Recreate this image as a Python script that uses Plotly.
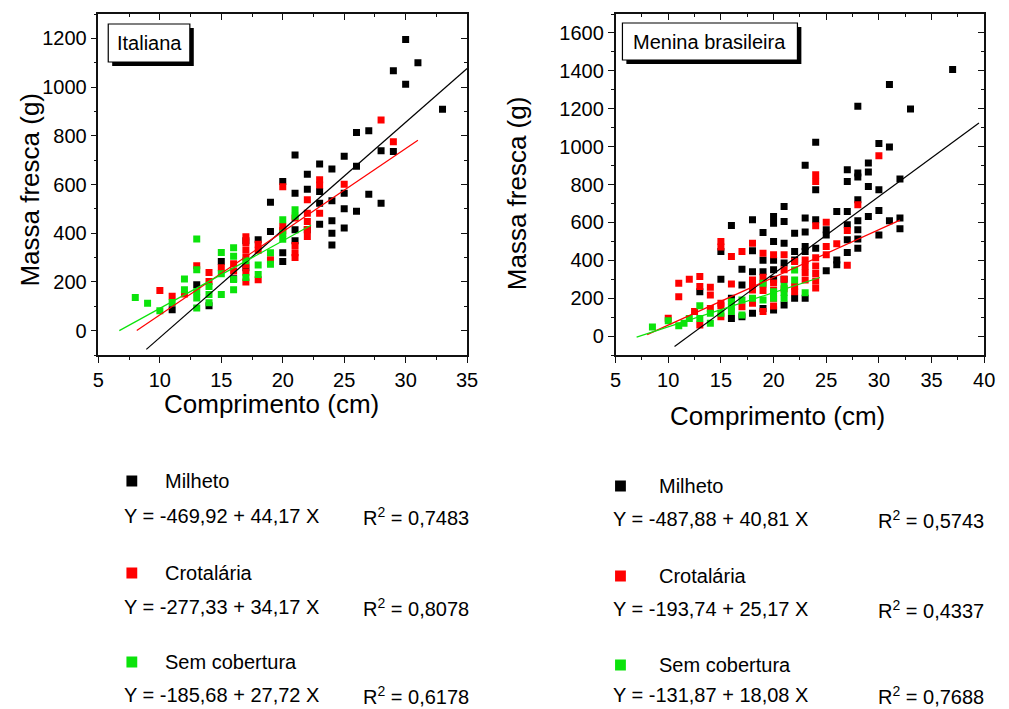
import plotly.graph_objects as go

W, H = 1009, 709

# ---------------- Italiana ----------------
ita_milheto_x = [11, 13, 14, 15, 16, 17, 17, 18, 19, 19, 20, 20, 20, 21, 21, 21, 21, 22, 22, 22,
                 23, 23, 23, 23, 24, 24, 24, 24, 24, 25, 25, 25, 25, 26, 26, 26, 27, 27, 28, 28,
                 29, 29, 30, 30, 31, 33]
ita_milheto_y = [86, 188, 102, 284, 213, 369, 258, 373, 527, 407, 612, 320, 284, 721, 564, 414, 369, 642, 581, 414,
                 684, 571, 523, 437, 664, 533, 451, 400, 352, 716, 564, 500, 421, 814, 675, 490, 821, 560, 739, 523,
                 1067, 735, 1195, 1012, 1100, 909]

ita_crot_x = [10, 11, 12, 13, 14, 14, 15, 16, 16, 17, 17, 17, 17, 17, 17, 17, 18, 18, 18, 19,
              20, 20, 20, 21, 21, 21, 21, 22, 22, 22, 22, 22, 23, 23, 23, 25, 28, 29]
ita_crot_y = [165, 141, 150, 266, 239, 202, 258, 275, 245, 385, 360, 330, 300, 270, 240, 200, 355, 330, 209, 291,
              591, 428, 410, 462, 350, 320, 300, 537, 482, 448, 415, 386, 619, 598, 482, 601, 865, 776]

ita_sem_x = [8, 9, 10, 11, 12, 12, 13, 13, 13, 13, 13, 14, 14, 14, 15, 15, 15, 16, 16, 16,
             16, 17, 17, 18, 18, 19, 19, 20, 20, 20, 21, 21]
ita_sem_y = [136, 112, 82, 116, 212, 168, 376, 250, 160, 134, 93, 181, 148, 115, 321, 234, 148, 340, 305, 210,
             168, 287, 218, 270, 230, 320, 273, 455, 400, 375, 496, 470]

ita_intercepts = [-469.92, -277.33, -185.68]
ita_slopes = [44.17, 34.17, 27.72]
ita_r2 = ["0,7483", "0,8078", "0,6178"]
ita_fit_x = [[8.9, 35.0], [8.12, 31.0], [6.7, 22.3]]

# ---------------- Menina brasileira ----------------
men_milheto_x = [13, 15, 15, 16, 16, 16, 17, 17, 17, 18, 18, 18, 18, 19, 19, 19, 19, 20, 20, 20,
                 20, 20, 20, 20, 21, 21, 21, 21, 21, 21, 22, 22, 22, 22, 23, 23, 23, 23, 23, 23,
                 24, 24, 24, 24, 25, 25, 25, 26, 26, 26, 27, 27, 27, 27, 27, 27, 28, 28, 28, 28,
                 28, 28, 28, 28, 29, 29, 29, 29, 30, 30, 30, 30, 31, 31, 31, 32, 32, 32, 33, 37]
men_milheto_y = [234, 300, 446, 584, 199, 93, 353, 270, 102, 614, 450, 340, 120, 547, 400, 340, 146, 631, 596, 499,
                 400, 350, 300, 138, 684, 605, 490, 385, 300, 164, 543, 446, 402, 199, 901, 623, 549, 473, 446, 199,
                 1023, 772, 614, 464, 561, 534, 345, 658, 402, 376, 878, 816, 658, 587, 508, 441, 1213, 861, 840, 720,
                 608, 561, 512, 464, 914, 866, 790, 631, 1016, 772, 663, 534, 1328, 998, 608, 829, 623, 566, 1199, 1407]

men_crot_x = [10, 11, 11, 12, 12.5, 13, 13, 13, 14, 14, 14, 15, 15, 15, 15, 15, 16, 16, 17, 17,
              18, 18, 18, 18, 18, 19, 19, 19, 19, 19, 20, 20, 20, 20, 20, 21, 21, 21, 21, 22,
              22, 22, 23, 23, 23, 23, 24, 24, 24, 24, 24, 24, 24, 24, 25, 25, 25, 26, 27, 27,
              28, 30]
men_crot_y = [94, 279, 208, 300, 129, 314, 261, 58, 257, 217, 146, 499, 470, 173, 160, 102, 420, 275, 446, 155,
              490, 296, 270, 243, 173, 437, 310, 275, 240, 129, 429, 280, 240, 200, 159, 429, 350, 300, 250, 393,
              261, 234, 402, 370, 335, 296, 852, 816, 582, 413, 370, 330, 290, 254, 601, 473, 429, 487, 557, 374,
              693, 952]

men_sem_x = [8.5, 10, 11, 11.5, 12, 13, 13, 14, 14, 15, 16, 16, 16, 17, 17, 18, 19, 19, 20, 20,
             21, 21, 21, 22, 22, 23]
men_sem_y = [48, 81, 55, 67, 93, 160, 93, 120, 67, 120, 181, 155, 129, 190, 111, 199, 279, 190, 234, 199,
             261, 230, 199, 349, 296, 229]

men_intercepts = [-487.88, -193.74, -131.87]
men_slopes = [40.81, 25.17, 18.08]
men_r2 = ["0,5743", "0,4337", "0,7688"]
men_fit_x = [[10.6, 39.5], [8.0, 32.0], [7.0, 24.4]]

series_names = ["Milheto", "Crotalária", "Sem cobertura"]
colors = ["#000000", "#ff0000", "#0be30b"]

FONT = "Arial, 'Liberation Sans', sans-serif"


def px(x):
    return x / W


def py(y):
    return 1 - y / H


def fmt(v):
    return f"{v:.2f}".replace(".", ",")


fig = go.Figure()

panels = [
    dict(xa="x", ya="y", data=[(ita_milheto_x, ita_milheto_y), (ita_crot_x, ita_crot_y), (ita_sem_x, ita_sem_y)],
         b=ita_intercepts, m=ita_slopes, fx=ita_fit_x),
    dict(xa="x2", ya="y2", data=[(men_milheto_x, men_milheto_y), (men_crot_x, men_crot_y), (men_sem_x, men_sem_y)],
         b=men_intercepts, m=men_slopes, fx=men_fit_x),
]

for p in panels:
    for (xs, ys), c, name in zip(p["data"], colors, series_names):
        fig.add_trace(go.Scatter(x=xs, y=ys, mode="markers", name=name, xaxis=p["xa"], yaxis=p["ya"],
                                 marker=dict(symbol="square", size=7, color=c, line=dict(width=0)),
                                 showlegend=False, hoverinfo="skip"))
    for b, m, xr, c in zip(p["b"], p["m"], p["fx"], colors):
        fig.add_trace(go.Scatter(x=xr, y=[b + m * v for v in xr], mode="lines", xaxis=p["xa"], yaxis=p["ya"],
                                 line=dict(color=c, width=1.2), showlegend=False, hoverinfo="skip"))

# empty traces so the mirrored (inside-tick) frame axes get drawn
for xa, ya in [("x3", "y"), ("x", "y3"), ("x4", "y2"), ("x2", "y4")]:
    fig.add_trace(go.Scatter(x=[], y=[], xaxis=xa, yaxis=ya, showlegend=False, hoverinfo="skip"))

axis_common = dict(showgrid=False, zeroline=False, showline=True, linecolor="#111", linewidth=1.5,
                   tickcolor="#111", tickwidth=1.2, tickfont=dict(family=FONT, size=20, color="#000"))

ldom_x = [px(94), px(469)]
rdom_x = [px(620), px(995)]
dom_y = [py(355), py(14)]


def xax(rng, dom, anchor, inside=False, overlay=None):
    d = dict(axis_common, range=rng, domain=dom, anchor=anchor, tick0=5, dtick=5,
             ticks="inside" if inside else "outside", ticklen=6,
             minor=dict(ticks="inside" if inside else "outside", ticklen=3, dtick=2.5, tick0=5,
                        tickcolor="#111", tickwidth=1))
    if overlay:
        d.update(overlaying=overlay, side="top", showticklabels=False)
    return d


def yax(rng, dom, anchor, inside=False, overlay=None):
    d = dict(axis_common, range=rng, domain=dom, anchor=anchor, tick0=0, dtick=200,
             ticks="inside" if inside else "outside", ticklen=6,
             minor=dict(ticks="inside" if inside else "outside", ticklen=3, dtick=100, tick0=0,
                        tickcolor="#111", tickwidth=1))
    if overlay:
        d.update(overlaying=overlay, side="right", showticklabels=False)
    return d


fig.update_layout(
    width=W, height=H, margin=dict(l=0, r=0, t=0, b=0),
    paper_bgcolor="white", plot_bgcolor="white",
    xaxis=xax([5, 35], ldom_x, "y"),
    yaxis=yax([-100, 1300], dom_y, "x"),
    xaxis3=xax([5, 35], ldom_x, "y", inside=True, overlay="x"),
    yaxis3=yax([-100, 1300], dom_y, "x", inside=True, overlay="y"),
    xaxis2=xax([5, 40], rdom_x, "y2"),
    yaxis2=yax([-100, 1700], dom_y, "x2"),
    xaxis4=xax([5, 40], rdom_x, "y2", inside=True, overlay="x2"),
    yaxis4=yax([-100, 1700], dom_y, "x2", inside=True, overlay="y2"),
)

shapes = []
annotations = []

# axis titles
for x0, y0, t, ang in [(24, 190, "Massa fresca (g)", -90), (520, 193, "Massa fresca (g)", -90),
                       (270, 404, "Comprimento (cm)", 0), (785, 416, "Comprimento (cm)", 0)]:
    annotations.append(dict(x=px(x0), y=py(y0), xref="paper", yref="paper", text=t, showarrow=False,
                            textangle=ang, xanchor="center", yanchor="middle",
                            font=dict(family=FONT, size=26, color="#000")))

# panel name boxes with drop shadow
for (x0, y0, x1, y1), label in [((104, 24, 187, 62), "Italiana"), ((627, 23, 805, 60), "Menina brasileira")]:
    shapes.append(dict(type="rect", xref="paper", yref="paper", x0=px(x0 + 4), x1=px(x1 + 4),
                       y0=py(y1 + 4), y1=py(y0 + 4), fillcolor="#000", line=dict(width=0), layer="above"))
    shapes.append(dict(type="rect", xref="paper", yref="paper", x0=px(x0), x1=px(x1),
                       y0=py(y1), y1=py(y0), fillcolor="#fff", line=dict(color="#000", width=1.2),
                       layer="above"))
    annotations.append(dict(x=px((x0 + x1) / 2), y=py((y0 + y1) / 2), xref="paper", yref="paper", text=label,
                            showarrow=False, xanchor="center", yanchor="middle",
                            font=dict(family=FONT, size=20, color="#000")))

# regression key below each panel
keys = [
    dict(sq_x=128, lab_x=160, eq_x=118, r_x=361, rows=[(481, 516), (573, 607), (662, 695)],
         b=ita_intercepts, m=ita_slopes, r2=ita_r2),
    dict(sq_x=625, lab_x=662, eq_x=615, r_x=885, rows=[(486, 519), (576, 609), (665, 695)],
         b=men_intercepts, m=men_slopes, r2=men_r2),
]
for k in keys:
    for (ly, ey), name, c, b, m, r2 in zip(k["rows"], series_names, colors, k["b"], k["m"], k["r2"]):
        s = 5.5
        shapes.append(dict(type="rect", xref="paper", yref="paper", x0=px(k["sq_x"] - s), x1=px(k["sq_x"] + s),
                           y0=py(ly + s), y1=py(ly - s), fillcolor=c, line=dict(width=0)))
        annotations.append(dict(x=px(k["lab_x"]), y=py(ly), xref="paper", yref="paper", text=name,
                                showarrow=False, xanchor="left", yanchor="middle",
                                font=dict(family=FONT, size=20, color="#000")))
        eq = f"Y = {fmt(b)} + {fmt(m)} X"
        annotations.append(dict(x=px(k["eq_x"]), y=py(ey), xref="paper", yref="paper", text=eq,
                                showarrow=False, xanchor="left", yanchor="middle",
                                font=dict(family=FONT, size=20, color="#000")))
        annotations.append(dict(x=px(k["r_x"]), y=py(ey), xref="paper", yref="paper",
                                text=f"R<sup>2</sup> = {r2}", showarrow=False, xanchor="left",
                                yanchor="middle", font=dict(family=FONT, size=20, color="#000")))

fig.update_layout(shapes=shapes, annotations=annotations)

fig.write_html("out.html")
